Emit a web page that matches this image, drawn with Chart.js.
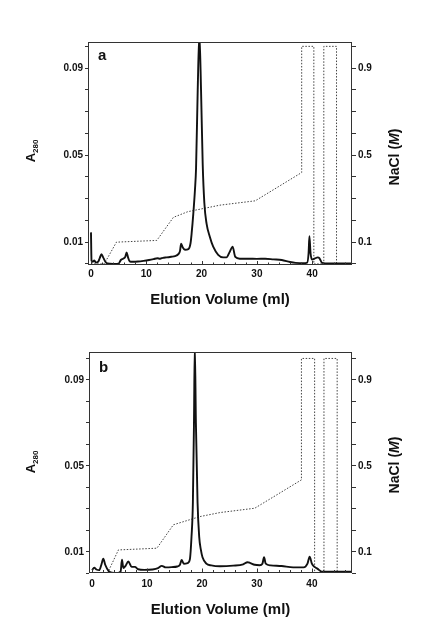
<!DOCTYPE html>
<html><head><meta charset="utf-8">
<script src="https://cdn.jsdelivr.net/npm/chart.js@4"></script>
<style>
html,body{margin:0;padding:0;background:#fff;width:433px;height:627px;overflow:hidden;}
canvas{position:absolute;left:0;display:block;}
</style></head><body>
<canvas id="ca" width="433" height="309" style="top:0px"></canvas>
<canvas id="cb" width="433" height="310" style="top:309px"></canvas>
<script>
// ---- data ----
const volumeA = [0,0.1,0.3,0.6,0.9,1.3,1.6,1.9,2.2,2.6,3.0,4.0,5.0,5.4,5.8,6.2,6.45,6.7,7.0,7.5,8.5,9.5,10.5,11.3,12.0,12.5,13.0,13.7,14.5,15.2,15.8,16.1,16.3,16.6,17.0,17.6,18.0,18.2,18.5,18.8,19.0,19.3,19.6,19.9,20.2,20.5,20.9,21.5,22.1,23.0,23.9,24.5,25.1,25.6,26.1,26.9,28.5,30.0,31.5,33.0,34.5,36.0,37.0,38.4,39.1,39.35,39.5,39.7,40.0,40.5,41.0,41.3,41.8,43.0,47.2];
const absorbanceA = [0.0145,0.0015,0.001,0.0016,0.0006,0.001,0.0028,0.0045,0.003,0.001,0.0002,0.0,0.0001,0.0018,0.0024,0.0032,0.0053,0.003,0.0012,0.001,0.0011,0.0014,0.0018,0.0022,0.0026,0.0024,0.0028,0.003,0.0033,0.0036,0.0045,0.006,0.0093,0.0075,0.0065,0.0068,0.0095,0.014,0.023,0.034,0.044,0.08,0.106,0.08,0.046,0.028,0.0185,0.0124,0.0079,0.0042,0.003,0.003,0.0056,0.0079,0.0032,0.0024,0.0024,0.0023,0.0024,0.0021,0.0018,0.0009,0.0005,0.0003,0.0006,0.005,0.0127,0.005,0.002,0.0025,0.003,0.0027,0.0005,0.0002,0.0002];
const gradientVolumeA = [0,2.4,4.6,11.9,14.9,17.5,23.3,29.7,38.1,38.1,40.3,40.3,42.1,42.1,44.4,44.4,47.2];
const naclA = [0,0,0.1,0.108,0.214,0.24,0.27,0.29,0.42,1.0,1.0,0,0,1.0,1.0,0,0];

const volumeB = [0,0.4,0.8,1.3,1.7,2.05,2.4,3.0,3.6,4.6,5.2,5.45,5.7,6.1,6.6,7.2,7.8,8.4,9.5,11.0,12.0,12.7,13.4,14.5,15.5,16.0,16.3,16.7,17.4,17.8,18.1,18.35,18.55,18.7,18.9,19.2,19.5,19.8,20.1,20.8,21.7,23.3,25.7,27.5,28.3,28.8,29.6,30.5,31.0,31.3,31.6,32.5,34.5,36.6,38.5,39.2,39.6,40.0,40.5,41.0,41.8,47.3];
const absorbanceB = [0.0015,0.0026,0.0018,0.0015,0.004,0.0068,0.004,0.0012,0.0003,0.0001,0.0008,0.0063,0.0025,0.0035,0.0055,0.003,0.003,0.0019,0.0016,0.0018,0.0024,0.0035,0.0028,0.0029,0.0032,0.004,0.0062,0.0045,0.0048,0.0065,0.017,0.033,0.07,0.106,0.07,0.033,0.017,0.011,0.0075,0.0045,0.0037,0.0033,0.0036,0.0042,0.0052,0.0048,0.004,0.0038,0.0045,0.0075,0.0045,0.0037,0.0034,0.0028,0.0028,0.0045,0.0078,0.0045,0.003,0.0022,0.0008,0.0008];
const gradientVolumeB = [0,2.8,4.8,11.8,14.8,19.6,23.3,29.6,38.1,38.1,40.5,40.5,42.2,42.2,44.6,44.6,47.3];
const naclB = [0,0,0.109,0.117,0.226,0.264,0.283,0.303,0.435,1.0,1.0,0,0,1.0,1.0,0,0];

const xTickLabels = [0,10,20,30,40];
const xMinorTicks = [0,2,4,6,8,10,12,14,16,18,20,22,24,26,28,30,32,34,36,38,40,42,44,46];
const absTicks = [0,0.01,0.02,0.03,0.04,0.05,0.06,0.07,0.08,0.09,0.1];
const absLabelled = [0.01,0.05,0.09];
const naclTicks = [0,0.1,0.2,0.3,0.4,0.5,0.6,0.7,0.8,0.9,1.0];
const naclLabelled = [0.1,0.5,0.9];

const FONT = '"Liberation Sans", Arial, Helvetica, sans-serif';
const INK = '#111';

const decor = {
  id: 'decor',
  afterDraw(chart, args, o) {
    const ctx = chart.ctx, a = chart.chartArea;
    ctx.save();
    // frame
    ctx.strokeStyle = '#333'; ctx.lineWidth = 1;
    ctx.strokeRect(Math.round(a.left) + 0.5, Math.round(a.top) + 0.5,
                   Math.round(a.right - a.left) - 1, Math.round(a.bottom - a.top) - 1);
    // inward x ticks
    const xs = chart.scales.x;
    ctx.beginPath();
    xMinorTicks.forEach(v => {
      const px = Math.round(xs.getPixelForValue(v)) + 0.5;
      const len = (v % 10 === 0) ? 4 : 2.5;
      ctx.moveTo(px, a.bottom); ctx.lineTo(px, a.bottom - len);
    });
    ctx.stroke();
    ctx.fillStyle = INK;
    // panel letter
    ctx.font = 'bold 15px ' + FONT;
    ctx.textAlign = 'left'; ctx.textBaseline = 'alphabetic';
    ctx.fillText(o.letter, a.left + 10, a.top + o.letterDy);
    // left title A280
    ctx.save();
    ctx.translate(35, o.leftTitleY);
    ctx.rotate(-Math.PI / 2);
    ctx.font = 'bold 13px ' + FONT;
    const wA = ctx.measureText('A').width;
    ctx.font = 'bold 8px ' + FONT;
    const wS = ctx.measureText('280').width;
    const x0 = -(wA + wS) / 2;
    ctx.font = 'bold 13px ' + FONT;
    ctx.fillText('A', x0, 0);
    ctx.font = 'bold 8px ' + FONT;
    ctx.fillText('280', x0 + wA, 3);
    ctx.restore();
    // right title NaCl (M)
    ctx.save();
    ctx.translate(399, o.rightTitleY);
    ctx.rotate(-Math.PI / 2);
    const parts = [['NaCl (', 'bold 14px ' + FONT], ['M', 'italic bold 14px ' + FONT], [')', 'bold 14px ' + FONT]];
    let tw = 0;
    parts.forEach(p => { ctx.font = p[1]; tw += ctx.measureText(p[0]).width; });
    let cx = -tw / 2;
    parts.forEach(p => { ctx.font = p[1]; ctx.fillText(p[0], cx, 0); cx += ctx.measureText(p[0]).width; });
    ctx.restore();
    ctx.restore();
  }
};

function near(v, list) { return list.some(t => Math.abs(t - v) < 1e-9); }

function makePanel(id, p) {
  const trace = p.vol.map((v, i) => ({x: v, y: p.abs[i]}));
  const grad = p.gvol.map((v, i) => ({x: v, y: p.salt[i]}));
  const canvas = document.getElementById(id);
  const H = canvas.height;
  return new Chart(canvas, {
    type: 'line',
    data: {
      datasets: [
        {data: trace, yAxisID: 'y', borderColor: '#111', borderWidth: 1.9, pointRadius: 0,
         cubicInterpolationMode: 'monotone', fill: false, clip: 0, order: 1},
        {data: grad, yAxisID: 'y2', borderColor: '#444', borderWidth: 1, borderDash: [1.5, 1.6],
         pointRadius: 0, tension: 0, fill: false, clip: 0, order: 2}
      ]
    },
    options: {
      responsive: false, animation: false, devicePixelRatio: 1,
      layout: {padding: {top: p.top, left: 0, right: 0, bottom: 0}},
      plugins: {legend: {display: false}, tooltip: {enabled: false}, decor: p.decor},
      scales: {
        x: {
          type: 'linear', min: p.xmin, max: p.xmax,
          afterBuildTicks: s => { s.ticks = xTickLabels.map(v => ({value: v})); },
          afterFit: s => { s.height = H - p.bottom; },
          grid: {display: false, drawTicks: false},
          border: {display: false},
          ticks: {autoSkip: false, maxRotation: 0, padding: p.xLabelPad, color: INK,
                  font: {family: FONT, size: 10, weight: 'bold'}},
          title: {display: true, text: 'Elution Volume (ml)', color: INK, padding: {top: 0, bottom: 0},
                  font: {family: FONT, size: 15, weight: 'bold', lineHeight: 1.2}}
        },
        y: {
          position: 'left', min: p.ymin, max: p.ymax,
          afterBuildTicks: s => { s.ticks = absTicks.map(v => ({value: v})); },
          afterFit: s => { s.width = p.left; },
          grid: {drawOnChartArea: false, drawTicks: true, tickLength: 3, color: '#333'},
          border: {display: false},
          ticks: {autoSkip: false, padding: 2, color: INK, font: {family: FONT, size: 10, weight: 'bold'},
                  callback: v => near(v, absLabelled) ? v.toFixed(2) : ''}
        },
        y2: {
          position: 'right', min: p.ymin * 10, max: p.ymax * 10,
          afterBuildTicks: s => { s.ticks = naclTicks.map(v => ({value: v})); },
          afterFit: s => { s.width = 433 - p.right; },
          grid: {drawOnChartArea: false, drawTicks: true, tickLength: 4, color: '#333'},
          border: {display: false},
          ticks: {autoSkip: false, padding: 2, color: INK, font: {family: FONT, size: 10, weight: 'bold'},
                  callback: v => near(v, naclLabelled) ? v.toFixed(1) : ''}
        }
      }
    },
    plugins: [decor]
  });
}

makePanel('ca', {vol: volumeA, abs: absorbanceA, gvol: gradientVolumeA, salt: naclA,
  xmin: -0.54, xmax: 47.2, ymin: -0.0005, ymax: 0.102,
  top: 42, bottom: 265, left: 88, right: 352, xLabelPad: 3,
  decor: {letter: 'a', letterDy: 18, leftTitleY: 151, rightTitleY: 157}});
makePanel('cb', {vol: volumeB, abs: absorbanceB, gvol: gradientVolumeB, salt: naclB,
  xmin: -0.55, xmax: 47.3, ymin: 0.0004, ymax: 0.103,
  top: 43, bottom: 263.5, left: 89, right: 352, xLabelPad: 6,
  decor: {letter: 'b', letterDy: 20, leftTitleY: 153, rightTitleY: 156}});
</script>
</body></html>
